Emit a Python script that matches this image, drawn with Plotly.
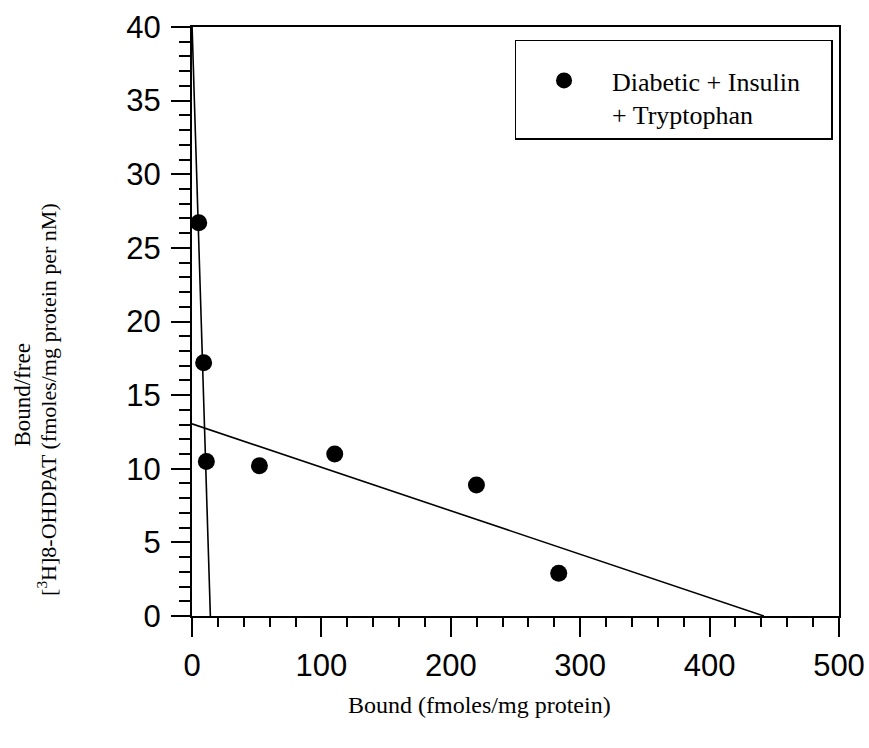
import plotly.graph_objects as go

# Scatchard data: bound ligand vs bound/free ratio
bound = [5.2, 9.0, 11.1, 52.1, 110.3, 219.8, 283.4]
bound_free = [26.7, 17.2, 10.5, 10.2, 11.0, 8.9, 2.9]

# Two-site fit: (x-intercept = Bmax, y-intercept = Bmax/Kd)
high_site = {"bmax": 14.2, "intercept": 40.2}
low_site = {"bmax": 442.0, "intercept": 13.05}

x_ticks = [0, 100, 200, 300, 400, 500]
y_ticks = [0, 5, 10, 15, 20, 25, 30, 35, 40]

series_name = "Diabetic + Insulin\u00a0\u00a0\u00a0\u00a0<br>+ Tryptophan"

serif = "Liberation Serif, Times New Roman, serif"
sans = "Liberation Sans, Arial, sans-serif"

fig = go.Figure()

for site in (high_site, low_site):
    fig.add_trace(go.Scatter(
        x=[0, site["bmax"]],
        y=[site["intercept"], 0],
        mode="lines",
        line=dict(color="black", width=1.6),
        showlegend=False,
        hoverinfo="skip",
    ))

fig.add_trace(go.Scatter(
    x=bound,
    y=bound_free,
    mode="markers",
    marker=dict(color="black", size=17, line=dict(width=0)),
    name=series_name,
    cliponaxis=False,
))

axis_common = dict(
    showline=True,
    linecolor="black",
    linewidth=2,
    mirror=True,
    ticks="outside",
    ticklen=19,
    tickwidth=2,
    tickcolor="black",
    showgrid=False,
    zeroline=False,
    tickfont=dict(family=sans, size=31, color="black"),
)

fig.update_xaxes(
    range=[0, 500],
    tickvals=x_ticks,
    ticklabelstandoff=2,
    minor=dict(ticks="outside", ticklen=9, tickwidth=1.5, tickcolor="black", dtick=20, tick0=0),
    **axis_common,
)
fig.update_yaxes(
    range=[0, 40],
    tickvals=y_ticks,
    ticklabelstandoff=4,
    minor=dict(ticks="outside", ticklen=11, tickwidth=1.5, tickcolor="black", dtick=1, tick0=0),
    **axis_common,
)

fig.add_annotation(
    text="Bound (fmoles/mg protein)",
    xref="paper", yref="paper",
    x=0.444, y=-0.151,
    xanchor="center", yanchor="middle",
    showarrow=False,
    font=dict(family=serif, size=24, color="black"),
)
fig.add_annotation(
    text="Bound/free",
    xref="paper", yref="paper",
    x=-0.262, y=0.375,
    xanchor="center", yanchor="middle",
    textangle=-90,
    showarrow=False,
    font=dict(family=serif, size=23, color="black"),
)
fig.add_annotation(
    text="[<sup>3</sup>H]8-OHDPAT (fmoles/mg protein per nM)",
    xref="paper", yref="paper",
    x=-0.224, y=0.367,
    xanchor="center", yanchor="middle",
    textangle=-90,
    showarrow=False,
    font=dict(family=serif, size=22, color="black"),
)

fig.update_layout(
    width=869,
    height=748,
    margin=dict(l=192, r=30, t=27, b=132, autoexpand=False),
    paper_bgcolor="white",
    plot_bgcolor="white",
    showlegend=True,
    legend=dict(
        x=0.99, y=0.978,
        xanchor="right", yanchor="top",
        bordercolor="black",
        borderwidth=1.5,
        bgcolor="white",
        font=dict(family=serif, size=26, color="black"),
        itemwidth=86,
        valign="top",
        title=dict(text="\u00a0", font=dict(size=12)),
    ),
)

fig.write_html("out.html")
